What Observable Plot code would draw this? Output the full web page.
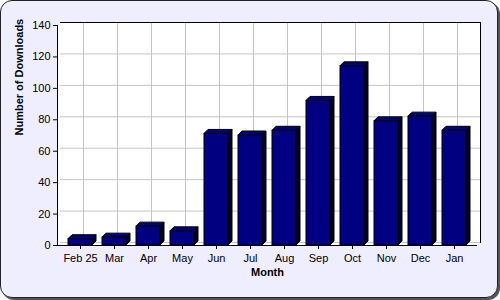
<!DOCTYPE html>
<html><head><meta charset="utf-8">
<script src="https://cdn.jsdelivr.net/npm/d3@7"></script>
<script src="https://cdn.jsdelivr.net/npm/@observablehq/plot@0.6"></script>
<style>
body{margin:0;background:white;}
#wrap{position:relative;width:500px;height:300px;}
#bg{position:absolute;left:0;top:0;width:496px;height:296px;background:#EEEEFF;border:1px solid #222;border-radius:12px;box-shadow:2px 2px 0 #555;}
#chart{position:absolute;left:0;top:0;}
</style></head><body>
<div id="wrap"><div id="bg"></div><div id="chart"></div></div>
<script>
const months = ["Feb 25","Mar","Apr","May","Jun","Jul","Aug","Sep","Oct","Nov","Dec","Jan"];
const downloads = [4,5,12,9,71,70,73,92,114,79,82,73];
const yTicks = [0,20,40,60,80,100,120,140];
const yTitle = "Number of Downloads";
const xTitle = "Month";

const data = months.map((m,i)=>({month:m, value:downloads[i]}));
const D = 3;      // back-wall depth
const B = 4;      // bar depth
const navy = "#000080";

function bar3d(index, scales, values, dims, ctx, next) {
  const g = next(index, scales, values, dims, ctx);
  const rects = Array.from(g.querySelectorAll("rect"));
  for (const r of rects) {
    const x = +r.getAttribute("x"), y = +r.getAttribute("y");
    const w = +r.getAttribute("width"), h = +r.getAttribute("height");
    const ns = "http://www.w3.org/2000/svg";
    const top = document.createElementNS(ns, "polygon");
    top.setAttribute("points", `${x},${y} ${x+B},${y-B} ${x+w+B},${y-B} ${x+w},${y}`);
    top.setAttribute("fill", navy); top.setAttribute("stroke", "black");
    const side = document.createElementNS(ns, "polygon");
    side.setAttribute("points", `${x+w},${y} ${x+w+B},${y-B} ${x+w+B},${y+h-B} ${x+w},${y+h}`);
    side.setAttribute("fill", "#000033"); side.setAttribute("stroke", "black");
    r.parentNode.insertBefore(side, r);
    r.parentNode.insertBefore(top, r);
  }
  return g;
}

const plot = Plot.plot({
  width:500, height:300,
  marginLeft:57, marginRight:23, marginTop:25, marginBottom:55,
  style:{background:"transparent", fontFamily:"'Liberation Sans', Arial, sans-serif", fontSize:"11px", color:"black", overflow:"visible"},
  x:{domain:months, padding:0.29, label:null},
  y:{domain:[0,140], label:null},
  marks:[
    Plot.frame({fill:"white", stroke:null}),
    Plot.frame({fill:"white", stroke:null, dx:D, dy:-D}),
    Plot.gridY(yTicks,{stroke:"#c4c4c4", strokeOpacity:1, dx:D, dy:-D}),
    Plot.gridX(months,{stroke:"#c4c4c4", strokeOpacity:1, dx:D, dy:-D}),
    Plot.frame({anchor:"top", stroke:"black", dx:D, dy:-D}),
    Plot.frame({anchor:"right", stroke:"black", dx:D, dy:-D}),
    Plot.barY(data,{x:"month", y:"value", fill:navy, stroke:"black", strokeWidth:1, render:bar3d}),
    Plot.frame({anchor:"left", stroke:"black"}),
    Plot.ruleY([0],{stroke:"black"}),
    Plot.axisX({tickSize:4, tickPadding:5, label:null, stroke:"black"}),
    Plot.axisY({ticks:yTicks, tickSize:4, tickPadding:3, label:null}),
    Plot.text([yTitle],{frameAnchor:"left", dx:-38, rotate:-90, fontWeight:"bold", fill:"black"}),
    Plot.text([xTitle],{frameAnchor:"bottom", dy:30, fontWeight:"bold", fill:"black"})
  ]
});
document.getElementById("chart").append(plot);
</script>
</body></html>
